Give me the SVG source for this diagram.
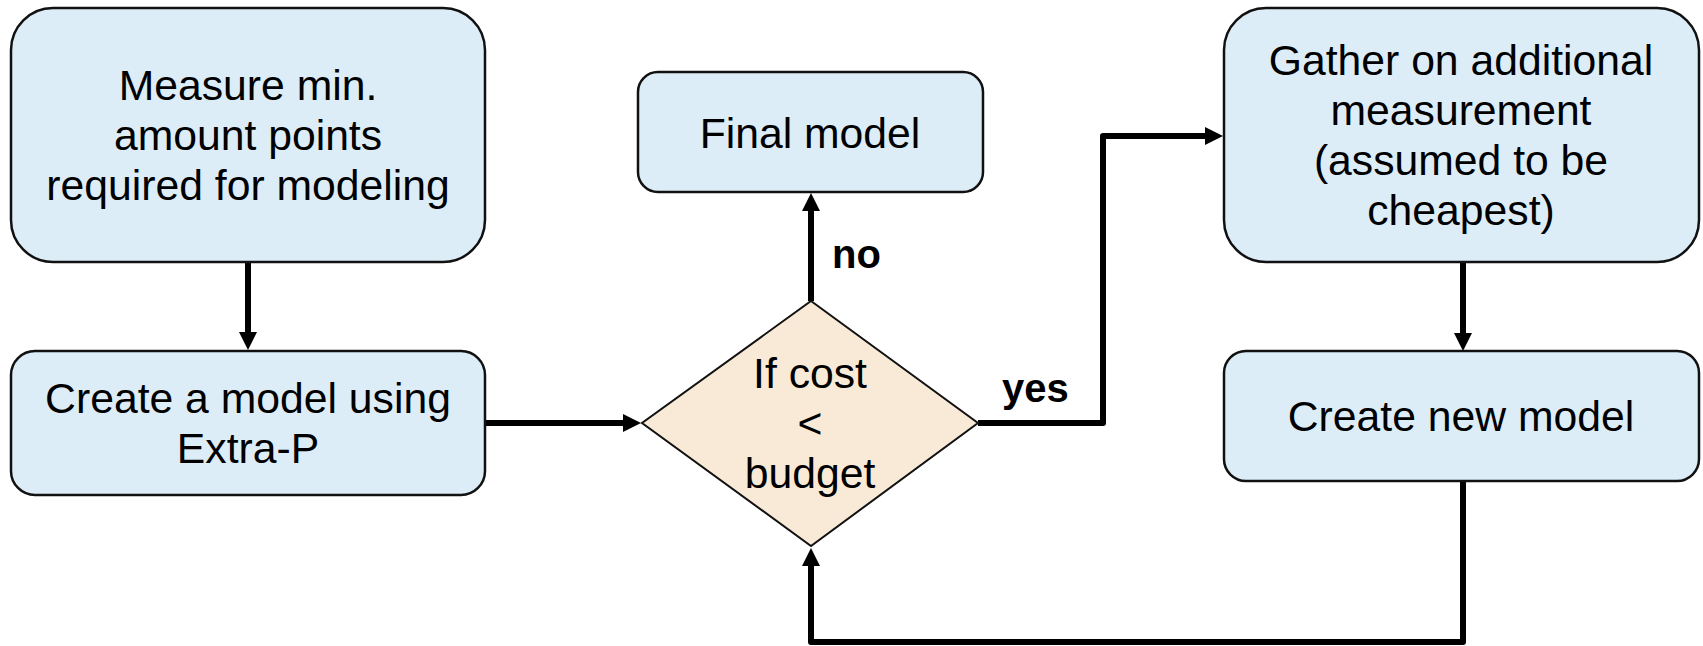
<svg xmlns="http://www.w3.org/2000/svg" width="1703" height="646" viewBox="0 0 1703 646">
  <style>
    .box { fill: #DDEDF8; stroke: #111; stroke-width: 2.5; }
    .dec { fill: #F8EAD6; stroke: #111; stroke-width: 2; }
    .txt { font-family: "Liberation Sans", Arial, sans-serif; font-size: 42.7px; fill: #000; text-anchor: middle; }
    .lbl { font-family: "Liberation Sans", Arial, sans-serif; font-size: 40px; font-weight: bold; fill: #000; }
    .edge { fill: none; stroke: #000; stroke-width: 6; stroke-linejoin: round; }
  </style>
  <defs>
    <marker id="arrow" markerUnits="userSpaceOnUse" markerWidth="18" markerHeight="18" refX="3" refY="9" orient="auto">
      <path d="M0,0 L18,9 L0,18 z" fill="#000"/>
    </marker>
  </defs>

  <rect width="1703" height="646" fill="#fff"/>

  <g id="connectors">
    <path class="edge" d="M248,262 V335" marker-end="url(#arrow)"/>
    <path class="edge" d="M485,423 H626" marker-end="url(#arrow)"/>
    <path class="edge" d="M811,301 V208" marker-end="url(#arrow)"/>
    <path class="edge" d="M978,423 H1103 V136 H1208" marker-end="url(#arrow)"/>
    <path class="edge" d="M1463,262 V336" marker-end="url(#arrow)"/>
    <path class="edge" d="M1463,481 V642 H811 V563" marker-end="url(#arrow)"/>
    <text class="lbl" x="832" y="268">no</text>
    <text class="lbl" x="1002" y="402">yes</text>
  </g>

  <g id="measure">
    <rect class="box" x="11" y="8" width="474" height="254" rx="42" ry="42"/>
    <text class="txt" x="248" y="100">Measure min.</text>
    <text class="txt" x="248" y="150">amount points</text>
    <text class="txt" x="248" y="200">required for modeling</text>
  </g>

  <g id="create-model">
    <rect class="box" x="11" y="351" width="474" height="144" rx="24" ry="24"/>
    <text class="txt" x="248" y="413">Create a model using</text>
    <text class="txt" x="248" y="463">Extra-P</text>
  </g>

  <g id="final-model">
    <rect class="box" x="638" y="72" width="345" height="120" rx="20" ry="20"/>
    <text class="txt" x="810" y="148">Final model</text>
  </g>

  <g id="budget-check">
    <polygon class="dec" points="811,301 978,423 811,546 642,423"/>
    <text class="txt" x="810" y="388">If cost</text>
    <text class="txt" x="810" y="438">&lt;</text>
    <text class="txt" x="810" y="488">budget</text>
  </g>

  <g id="gather">
    <rect class="box" x="1224" y="8" width="475" height="254" rx="42" ry="42"/>
    <text class="txt" x="1461" y="75">Gather on additional</text>
    <text class="txt" x="1461" y="125">measurement</text>
    <text class="txt" x="1461" y="175">(assumed to be</text>
    <text class="txt" x="1461" y="225">cheapest)</text>
  </g>

  <g id="create-new-model">
    <rect class="box" x="1224" y="351" width="475" height="130" rx="22" ry="22"/>
    <text class="txt" x="1461" y="431">Create new model</text>
  </g>
</svg>
